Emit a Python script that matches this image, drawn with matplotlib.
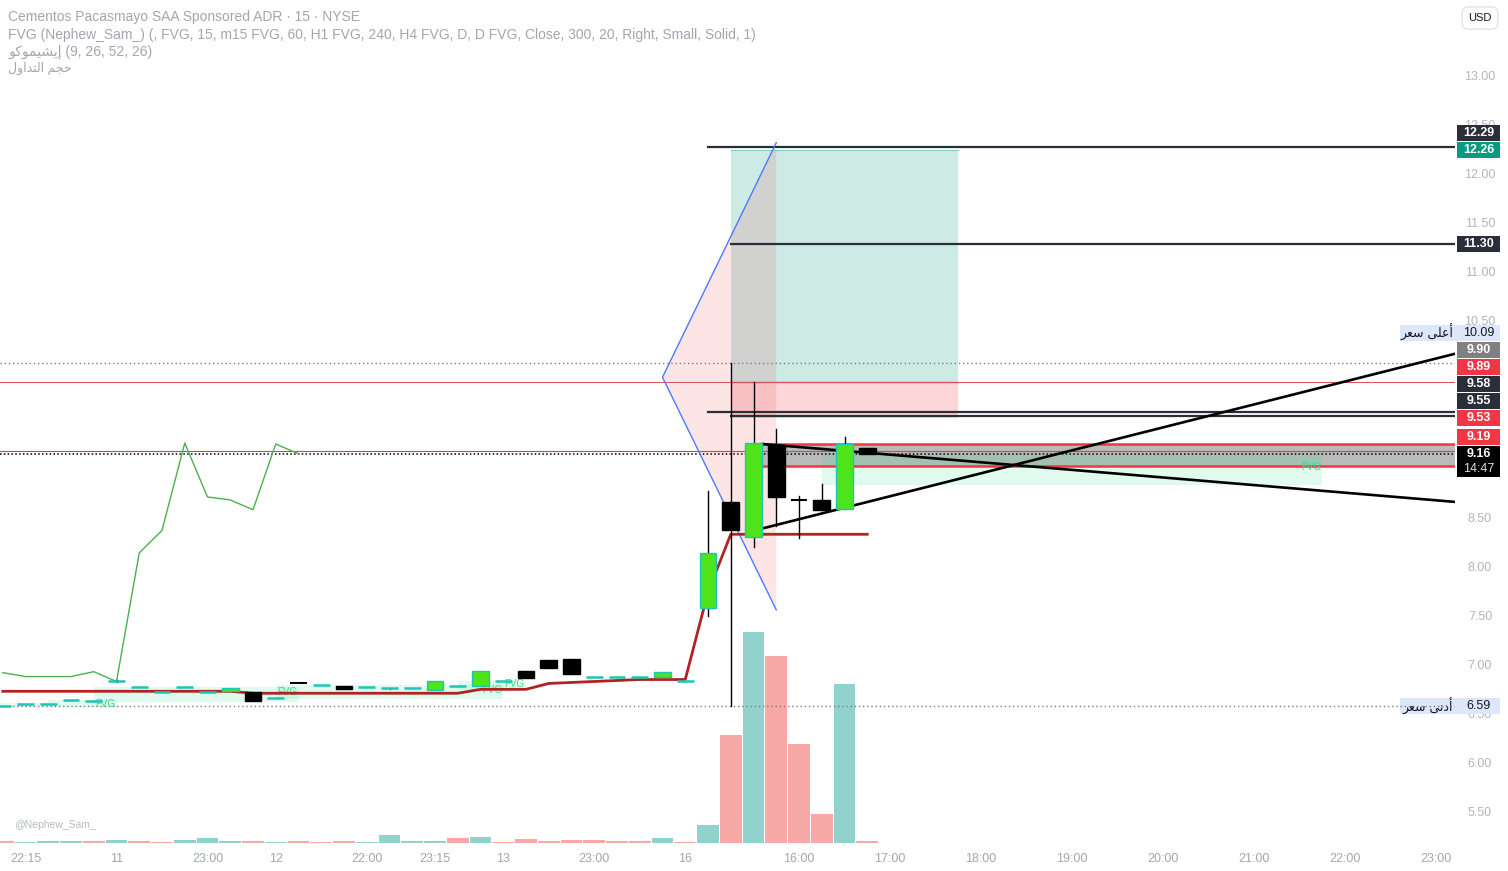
import matplotlib
matplotlib.use('Agg')
import matplotlib.pyplot as plt
from matplotlib.patches import Rectangle, Polygon

plt.rcParams['font.family'] = ['Liberation Sans', 'DejaVu Sans']

# ---- data (15 min bars, index 0 = first visible bar) ----
opens = [6.59, 6.61, 6.61, 6.65, 6.64, 6.83, 6.78, 6.73, 6.78, 6.73,
         6.74, 6.73, 6.67, 6.825, 6.80, 6.79, 6.78, 6.77, 6.77, 6.75,
         6.79, 6.79, 6.84, 6.95, 7.06, 7.07, 6.89, 6.89, 6.89, 6.89,
         6.84, 7.59, 8.67, 8.31, 9.25, 8.70, 8.69, 8.60, 9.22]
highs = [6.59, 6.61, 6.61, 6.65, 6.64, 6.85, 6.78, 6.73, 6.78, 6.73,
         6.77, 6.73, 6.67, 6.825, 6.80, 6.79, 6.78, 6.77, 6.77, 6.84,
         6.79, 6.95, 6.84, 6.95, 7.06, 7.07, 6.89, 6.89, 6.89, 6.94,
         6.84, 8.78, 10.09, 9.89, 9.41, 8.73, 8.85, 9.33, 9.22]
lows = [6.59, 6.61, 6.61, 6.65, 6.64, 6.83, 6.78, 6.73, 6.78, 6.73,
        6.74, 6.64, 6.67, 6.82, 6.80, 6.76, 6.78, 6.76, 6.77, 6.75,
        6.79, 6.79, 6.84, 6.88, 6.98, 6.92, 6.89, 6.89, 6.89, 6.89,
        6.84, 7.51, 6.59, 8.21, 8.42, 8.30, 8.59, 8.60, 9.16]
closes = [6.59, 6.61, 6.61, 6.65, 6.64, 6.84, 6.78, 6.73, 6.78, 6.73,
          6.77, 6.64, 6.67, 6.82, 6.80, 6.76, 6.78, 6.77, 6.77, 6.84,
          6.79, 6.95, 6.84, 6.88, 6.98, 6.92, 6.89, 6.89, 6.89, 6.94,
          6.84, 8.15, 8.38, 9.27, 8.72, 8.69, 8.59, 9.26, 9.16]
volumes = [200, 100, 200, 200, 200, 300, 200, 100, 300, 500,
           200, 200, 100, 200, 100, 200, 100, 800, 200, 200,
           500, 600, 100, 400, 200, 300, 300, 200, 200, 500,
           100, 1800, 10800, 21100, 18700, 9900, 2900, 15900, 200]
vol_up = [0, 1, 1, 1, 0, 1, 0, 0, 1, 1,
          1, 0, 1, 0, 0, 0, 1, 1, 1, 1,
          0, 1, 0, 0, 0, 0, 0, 0, 0, 1,
          0, 1, 0, 1, 0, 0, 0, 1, 0]
kijun = [6.74] * 11 + [6.72] * 10 + [6.76, 6.76, 6.76, 6.82, 6.83, 6.84,
                                     6.85, 6.86, 6.86, 6.86, 7.75] + [8.34] * 7
chikou = [6.93, 6.89, 6.89, 6.89, 6.94, 6.84, 8.15, 8.38, 9.27, 8.72,
          8.69, 8.59, 9.26, 9.16]

time_ticks = [1, 5, 9, 12, 16, 19, 22, 26, 30, 35, 39, 43, 47, 51, 55, 59, 63]
time_labels = ['22:15', '11', '23:00', '12', '22:00', '23:15', '13', '23:00', '16',
               '16:00', '17:00', '18:00', '19:00', '20:00', '21:00', '22:00', '23:00']
price_ticks = [13.0, 12.5, 12.0, 11.5, 11.0, 10.5, 10.0, 9.5, 9.0,
               8.5, 8.0, 7.5, 7.0, 6.5, 6.0, 5.5]

# fair value gaps (x0, x1, low, high) and their tags
fvg_boxes = [(-0.2, 2, 6.58, 6.62), (2, 5, 6.58, 6.65), (4, 13, 6.63, 6.78),
             (12, 22, 6.66, 6.80), (20, 23, 6.76, 6.84), (36, 58, 8.84, 9.17)]
fvg_tags = [(4.5, 6.61), (12.5, 6.73), (21.5, 6.75), (22.5, 6.81), (57.5, 9.03)]

# drawings
pos_x = (32, 42)
pos_target, pos_entry, pos_stop = 12.26, 9.89, 9.53
zone_x0, zone_lo, zone_hi = 33.4, 9.04, 9.26
h_lines = [(31, 12.29), (32, 11.30), (31, 9.585), (32, 9.545)]
trend_up = [(33.4, 8.40), (63.84, 10.18)]
trend_dn = [(33.4, 9.26), (63.84, 8.67)]
fan = [(29, 9.94), (34, 12.33), (34, 7.57)]
day_high, day_low, last_price, level_919 = 10.09, 6.59, 9.16, 9.19

# right scale labels: price, face colour, text colour
scale_labels = [(12.29, '#2A2E39', 'white'), (12.26, '#089981', 'white'),
                (11.30, '#2A2E39', 'white'), (10.09, '#DCE8FA', '#131722'),
                (9.90, '#808080', 'white'), (9.89, '#F23645', 'white'),
                (9.58, '#2A2E39', 'white'), (9.55, '#2A2E39', 'white'),
                (9.53, '#F23645', 'white'), (9.19, '#F23645', 'white'),
                (9.16, '#000000', 'white'), (6.59, '#DCE8FA', '#131722')]

# Arabic strings in visual (shaped, left-to-right) order
ICHIMOKU = '\uFEEE\uFEDB\uFEEE\uFEE4\uFEF4\uFEB8\uFEF3\uFE87'      # إيشيموكو
VOLUME = '\uFEDD\uFEED\uFE8D\uFEAA\uFE98\uFEDF\uFE8D \uFEE2\uFEA0\uFEA3'  # حجم التداول
HIGH_TAG = '\uFEAE\uFECC\uFEB3 \uFEF0\uFEE0\uFECB\uFE83'           # أعلى سعر
LOW_TAG = '\uFEAE\uFECC\uFEB3 \uFEF0\uFEE7\uFEA9\uFE83'            # أدنى سعر

UP_FILL, UP_EDGE, DOWN = '#4FE31B', '#1BC6B4', '#000000'
W, H = 1508, 871
PX = 98.13  # pixels per price unit

fig = plt.figure(figsize=(W / 100, H / 100), dpi=100)
ax = fig.add_axes([0, 28 / H, 1455 / W, 843 / H])
vax = ax.twinx()
ax.set_zorder(vax.get_zorder() + 1)
ax.patch.set_visible(False)
sax = fig.add_axes([1455 / W, 28 / H, 53 / W, 843 / H])

ylim = (13 - 766 / PX, 13 + 77 / PX)
xlim = (-0.121, 63.835)
ax.set_xlim(*xlim)
ax.set_ylim(*ylim)
sax.set_ylim(*ylim)
sax.set_xlim(0, 53)
sax.axis('off')

# volume
vax.bar(range(len(volumes)), volumes, width=0.95,
        color=['#92D2CC' if u else '#F7A9A7' for u in vol_up], zorder=1)
vax.set_ylim(0, 84300)
vax.axis('off')

# position tool
ax.add_patch(Rectangle((pos_x[0], pos_entry), pos_x[1] - pos_x[0], pos_target - pos_entry,
                       facecolor=(8 / 255, 153 / 255, 129 / 255, 0.2), edgecolor='none', zorder=1))
ax.add_patch(Rectangle((pos_x[0], pos_stop), pos_x[1] - pos_x[0], pos_entry - pos_stop,
                       facecolor=(242 / 255, 54 / 255, 69 / 255, 0.2), edgecolor='none', zorder=1))
ax.plot(pos_x, [pos_target] * 2, color='#7CCFC0', lw=0.8, zorder=1.2)
ax.plot(pos_x, [pos_entry] * 2, color='#888888', lw=1.0, zorder=1.2)

# fan / pattern
ax.add_patch(Polygon(fan, closed=True, facecolor=(242 / 255, 54 / 255, 69 / 255, 0.13),
                     edgecolor='none', zorder=1.1))
ax.plot([fan[1][0], fan[0][0], fan[2][0]], [fan[1][1], fan[0][1], fan[2][1]],
        color='#4A7BFF', lw=1.0, zorder=3)

# gray zone with red borders
ax.add_patch(Rectangle((zone_x0, zone_lo), xlim[1] - zone_x0, zone_hi - zone_lo,
                       facecolor='#BBBBBB', edgecolor='none', zorder=1.3))
ax.plot([zone_x0, xlim[1]], [zone_hi] * 2, color='#F23645', lw=1.8, zorder=2)
ax.plot([zone_x0, xlim[1]], [zone_lo] * 2, color='#F23645', lw=1.8, zorder=2)

# fvg boxes
for x0, x1, lo, hi in fvg_boxes:
    ax.add_patch(Rectangle((x0, lo), x1 - x0, hi - lo,
                           facecolor=(0, 230 / 255, 118 / 255, 0.12), edgecolor='none', zorder=1.4))
for tx, ty in fvg_tags:
    ax.text(tx, ty, 'FVG', fontsize=7, color='#35DE85', ha='center', va='center', zorder=2)

# full width lines
ax.axhline(day_high, color='#787B86', lw=1, ls=(0, (1, 2)), zorder=1.5)
ax.axhline(day_low, color='#787B86', lw=1, ls=(0, (1, 2)), zorder=1.5)
ax.axhline(pos_entry, color='#D9505C', lw=0.7, zorder=1.5)
ax.axhline(level_919, color='#F23645', lw=0.8, zorder=1.5)
ax.axhline(last_price, color='#000000', lw=1.1, ls=(0, (1, 1.5)), zorder=2.5)

for x0, y in h_lines:
    ax.plot([x0, xlim[1]], [y, y], color='#2A2E39', lw=1.6, zorder=2)

ax.plot(*zip(*trend_up), color='black', lw=1.9, zorder=4)
ax.plot(*zip(*trend_dn), color='black', lw=1.9, zorder=4)

# ichimoku
ax.plot(range(len(kijun)), kijun, color='#B22222', lw=2.0, zorder=3)
ax.plot(range(len(chikou)), chikou, color='#4CAF50', lw=1.0, zorder=3)

# candles
bw = 0.74
for i, (o, h, l, c) in enumerate(zip(opens, highs, lows, closes)):
    if h > max(o, c) or l < min(o, c):
        ax.plot([i, i], [l, h], color='black', lw=1.0, zorder=5)
    if abs(c - o) < 0.012:
        col = DOWN if c < o else UP_EDGE
        ax.plot([i - bw / 2, i + bw / 2], [c, c], color=col, lw=1.8 if c >= o else 1.5,
                solid_capstyle='butt', zorder=6)
    elif c > o:
        ax.add_patch(Rectangle((i - bw / 2, o), bw, c - o, facecolor=UP_FILL,
                               edgecolor=UP_EDGE, lw=1.0, zorder=6))
    else:
        ax.add_patch(Rectangle((i - bw / 2, c), bw, o - c, facecolor=DOWN,
                               edgecolor=DOWN, lw=1.0, zorder=6))

# time axis
ax.set_xticks(time_ticks)
ax.set_xticklabels(time_labels)
ax.tick_params(axis='x', length=0, pad=7, labelsize=9, labelcolor='#A3A6AF')
ax.set_yticks([])
for s in ax.spines.values():
    s.set_visible(False)

# price scale labels, stacked upwards so they do not overlap
step = 17 / PX
bh = 16 / PX
placed = []
prev = None
for p, fc, tc in sorted(scale_labels, key=lambda t: t[0]):
    y = p if prev is None else max(p, prev + step)
    prev = y
    placed.append((p, y, fc, tc))
covered = [y for _, y, _, _ in placed] + [y - 15 / PX for p, y, _, _ in placed if p == last_price]

for p in price_ticks:
    if any(abs(p - y) < 5 / PX for y in covered):
        continue  # hidden behind a label box
    sax.text(25, p, f'{p:.2f}', fontsize=9, color='#B2B5BE', ha='center', va='center', zorder=1)

for p, y, fc, tc in placed:
    sax.add_patch(Rectangle((2, y - bh / 2), 43, bh, facecolor=fc, edgecolor='none',
                            zorder=3, clip_on=False))
    sax.text(23.5, y, f'{p:.2f}', fontsize=9, color=tc, ha='center', va='center', zorder=4,
             fontweight='bold' if tc == 'white' else 'normal')
    if p == last_price:
        sax.add_patch(Rectangle((2, y - bh / 2 - 15 / PX), 43, 15 / PX, facecolor=fc,
                                edgecolor='none', zorder=3, clip_on=False))
        sax.text(23.5, y - 15 / PX, '14:47', fontsize=9, color='#DDDDDD', ha='center',
                 va='center', zorder=4)
    if p in (day_high, day_low):
        sax.add_patch(Rectangle((-55, y - bh / 2), 57, bh, facecolor=fc, edgecolor='none',
                                zorder=3, clip_on=False))
        sax.text(-2, y, HIGH_TAG if p == day_high else LOW_TAG, fontsize=9, color='#131722',
                 ha='right', va='center', zorder=4, clip_on=False,
                 family=['DejaVu Sans'])

# header texts
hdr = '#A3A6AF'
fig.text(8 / W, 1 - 17 / H, 'Cementos Pacasmayo SAA Sponsored ADR · 15 · NYSE',
         fontsize=10, color=hdr, va='center')
fig.text(8 / W, 1 - 35 / H,
         'FVG (Nephew_Sam_) (, FVG, 15, m15 FVG, 60, H1 FVG, 240, H4 FVG, D, D FVG, Close, 300, 20, Right, Small, Solid, 1)',
         fontsize=10, color=hdr, va='center')
fig.text(8 / W, 1 - 52 / H, ICHIMOKU + ' (9, 26, 52, 26)', fontsize=10, color=hdr, va='center')
fig.text(8 / W, 1 - 68 / H, VOLUME, fontsize=9, color=hdr, va='center')
fig.text(14 / W, 1 - 825 / H, '@Nephew_Sam_', fontsize=7.5, color='#B8BBC3', va='center')
fig.text(1480 / W, 1 - 18 / H, 'USD', fontsize=8, color='#131722', ha='center', va='center',
         bbox=dict(boxstyle='round,pad=0.55', fc='white', ec='#E0E3EB', lw=1))

fig.savefig('out.png', dpi=100)
